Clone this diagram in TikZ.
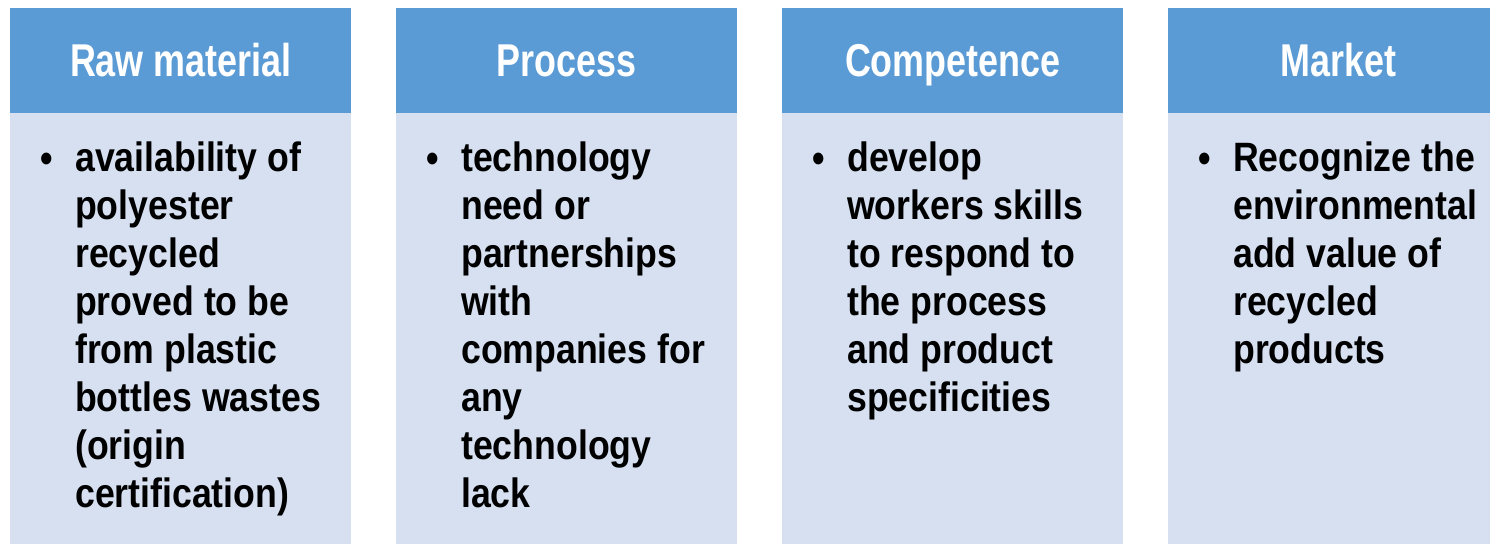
\documentclass[tikz,border=0pt]{standalone}
\usepackage{fontspec}
\setmainfont{Liberation Sans}
\newfontfamily\bodyfont{Liberation Sans}[FakeStretch=0.87]
\newfontfamily\headfont{Liberation Sans}[FakeStretch=0.78]
\definecolor{headblue}{RGB}{91,155,213}
\definecolor{bodyblue}{RGB}{214,224,240}
\begin{document}
\begin{tikzpicture}[x=1pt,y=-1pt,
  headbox/.style={fill=headblue, minimum width=341pt, minimum height=105pt, inner sep=0pt, anchor=north west,
    text=white, text height=39pt, text depth=8pt, font=\headfont\bfseries\fontsize{46}{50}\selectfont},
  bodybox/.style={fill=bodyblue, minimum width=341pt, minimum height=431pt, inner sep=0pt, anchor=north west},
  btext/.style={anchor=north west, inner sep=0pt, align=left, text=black,
    font=\bodyfont\bfseries\fontsize{41}{48}\selectfont},
  bul/.style={anchor=base, inner sep=0pt, text=black, font=\bodyfont\bfseries\fontsize{41}{48}\selectfont}]
\useasboundingbox (0,0) rectangle (1490,544);
\clip (0,0) rectangle (1490,544);
% column 1
\node[headbox] (h1) at (10,8) {Raw material};
\node[bodybox] (b1) at (10,113) {};
\node[bul] (u1) at (47,172) {•};
\node[btext] (t1) at (75,142) {availability of\\polyester\\recycled\\proved to be\\from plastic\\bottles wastes\\(origin\\certification)};
% column 2
\node[headbox] (h2) at (396,8) {Process};
\node[bodybox] (b2) at (396,113) {};
\node[bul] (u2) at (433,172) {•};
\node[btext] (t2) at (461,142) {technology\\need or\\partnerships\\with\\companies for\\any\\technology\\lack};
% column 3
\node[headbox] (h3) at (782,8) {Competence};
\node[bodybox] (b3) at (782,113) {};
\node[bul] (u3) at (819,172) {•};
\node[btext] (t3) at (847,142) {develop\\workers skills\\to respond to\\the process\\and product\\specificities};
% column 4
\node[headbox] (h4) at (1168,8) {Market};
\node[bodybox] (b4) at (1168,113) {};
\node[bul] (u4) at (1205,172) {•};
\node[btext] (t4) at (1233,142) {Recognize the\\environmental\\add value of\\recycled\\products};
\end{tikzpicture}
\end{document}
